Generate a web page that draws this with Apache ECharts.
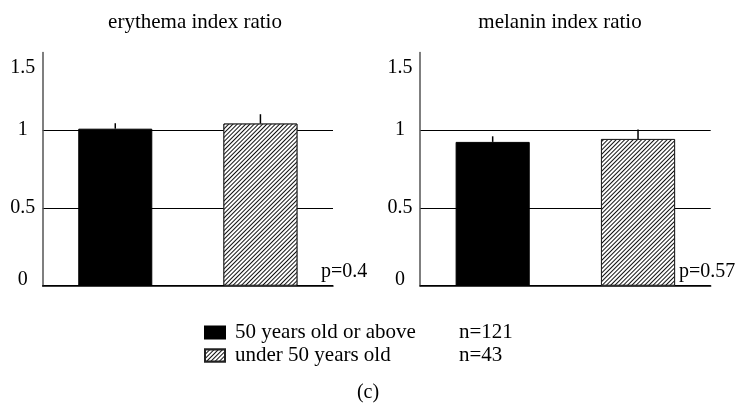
<!DOCTYPE html>
<html><head><meta charset="utf-8">
<script src="https://cdn.jsdelivr.net/npm/echarts@6/dist/echarts.min.js"></script>
<style>html,body{margin:0;padding:0;background:#fff}#c{width:749px;height:407px}</style>
</head><body><div id="c"></div>
<script>
const panelTitles = ['erythema index ratio', 'melanin index ratio'];
const groupNames = ['50 years old or above', 'under 50 years old'];
const groupN = [121, 43];
const erythemaMeans = [1.01, 1.043];
const erythemaErrors = [0.035, 0.06];
const melaninMeans = [0.925, 0.944];
const melaninErrors = [0.036, 0.06];
const pValues = ['p=0.4', 'p=0.57'];
const yTicks = [0, 0.5, 1, 1.5];
const panelLabel = '(c)';

const FF = "'Liberation Serif','Times New Roman',serif";
const panels = [
  {means: erythemaMeans, errs: erythemaErrors},
  {means: melaninMeans, errs: melaninErrors}
];
const grids = [
  {left: 42.7, right: 416, top: 52.5, bottom: 121.3},
  {left: 420, right: 38.3, top: 52.5, bottom: 121.3}
];
const hatch = {
  symbol: 'rect', symbolSize: 1, color: '#111', backgroundColor: '#fff',
  dashArrayX: [1, 0], dashArrayY: [1, 1.5], rotation: -Math.PI / 4
};

const xAxes = grids.map((g, i) => ({
  type: 'category', gridIndex: i, data: groupNames,
  axisLine: {lineStyle: {color: '#000', width: 1.5}},
  axisTick: {show: false}, axisLabel: {show: false}
}));
const yAxes = grids.map((g, i) => ({
  type: 'value', gridIndex: i, min: yTicks[0], max: yTicks[yTicks.length - 1], interval: 0.5,
  axisLine: {show: true, lineStyle: {color: '#555', width: 1.5}},
  axisTick: {show: false},
  splitLine: {show: true, showMaxLine: false, lineStyle: {color: '#000', width: 1}},
  axisLabel: {
    margin: 20, align: 'center', fontFamily: FF, fontSize: 20, color: '#000',
    formatter: v => v === 1.5 ? '{t|1.5}' : (v === 0 ? '{z|0}' : String(v)),
    rich: {
      t: {fontFamily: FF, fontSize: 20, color: '#000', padding: [30, 0, 0, 0]},
      z: {fontFamily: FF, fontSize: 20, color: '#000', padding: [0, 0, 12, 0]}
    }
  }
}));

const series = [];
panels.forEach((p, pi) => {
  groupNames.forEach((name, gi) => {
    series.push({
      type: 'bar', name: name, xAxisIndex: pi, yAxisIndex: pi,
      barWidth: '51%', barGap: '-100%',
      data: groupNames.map((_, k) => k === gi ? p.means[k] : '-'),
      itemStyle: gi === 0
        ? {color: '#000', borderColor: '#000', borderWidth: 1}
        : {color: '#fff', borderColor: '#222', borderWidth: 1, decal: hatch},
      z: 2
    });
  });
  series.push({
    type: 'custom', xAxisIndex: pi, yAxisIndex: pi, z: 3,
    data: p.means.map((m, k) => [k, m, m + p.errs[k]]),
    encode: {x: 0, y: [1, 2]},
    renderItem: (params, api) => {
      const a = api.coord([api.value(0), api.value(1)]);
      const b = api.coord([api.value(0), api.value(2)]);
      return {type: 'line', shape: {x1: a[0], y1: a[1], x2: b[0], y2: b[1]},
        style: {stroke: '#000', lineWidth: 1.5}};
    }
  });
});

const titles = [
  {text: panelTitles[0], left: 195, top: 12, textAlign: 'center'},
  {text: panelTitles[1], left: 560, top: 12, textAlign: 'center'},
  {text: pValues[0], left: 321, top: 262},
  {text: pValues[1], left: 679, top: 262},
  {text: panelLabel, left: 368, top: 383, textAlign: 'center'}
].map((t, i) => Object.assign({padding: 0, textStyle: {fontFamily: FF, fontSize: i < 2 ? 21 : 20, fontWeight: 'normal', color: '#000'}}, t));

const chart = echarts.init(document.getElementById('c'), null, {renderer: 'canvas'});
chart.setOption({
  animation: false,
  backgroundColor: '#fff',
  title: titles,
  legend: {
    orient: 'vertical', left: 199, top: 317, itemWidth: 20, itemHeight: 12, itemGap: 2,
    icon: 'rect', selectedMode: false, data: groupNames,
    formatter: name => `{a|${name}}{b|n=${groupN[groupNames.indexOf(name)]}}`,
    textStyle: {
      fontFamily: FF, fontSize: 21, color: '#000',
      rich: {
        a: {fontFamily: FF, fontSize: 21, color: '#000', lineHeight: 22, width: 224, padding: [0, 0, 0, 5]},
        b: {fontFamily: FF, fontSize: 21, color: '#000', lineHeight: 22}
      }
    }
  },
  grid: grids,
  xAxis: xAxes,
  yAxis: yAxes,
  series: series
});
</script></body></html>
